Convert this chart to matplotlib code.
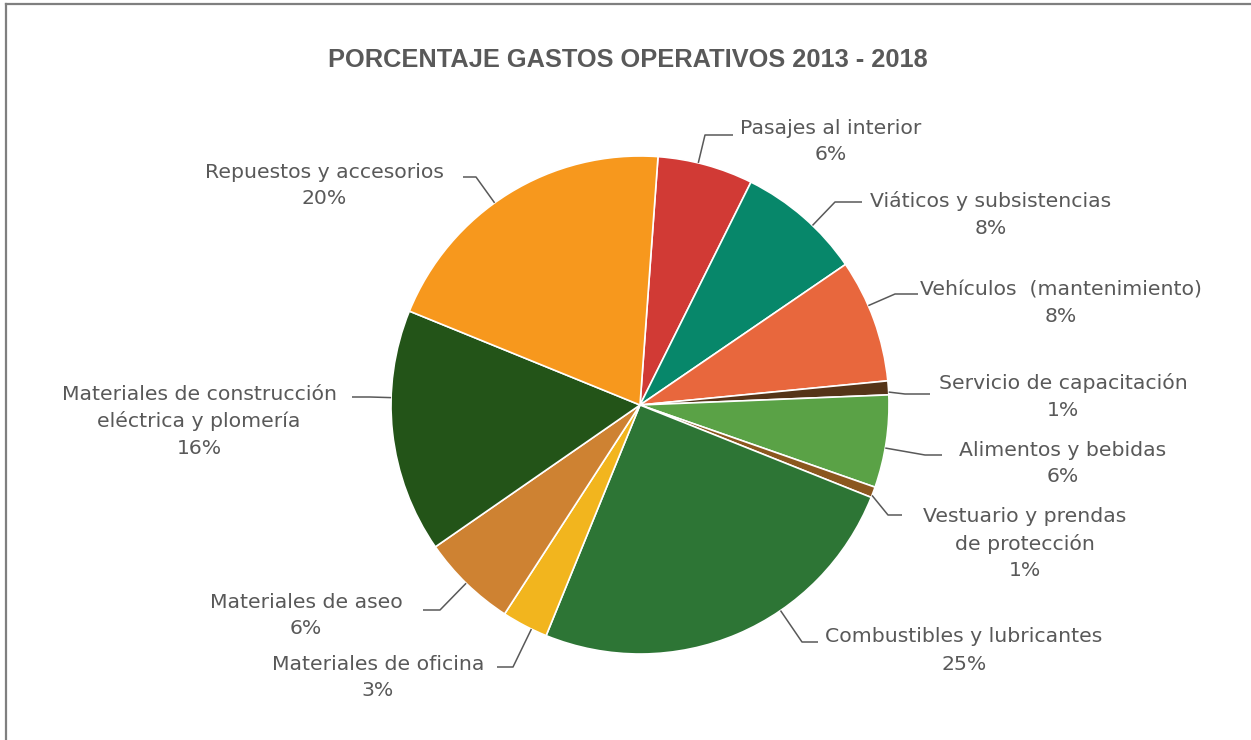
import numpy as np
import matplotlib
matplotlib.use("Agg")
import matplotlib.pyplot as plt

# data (percent of operating expenses)
categories = ["Pasajes al interior", "Viáticos y subsistencias", "Vehículos  (mantenimiento)",
              "Servicio de capacitación", "Alimentos y bebidas", "Vestuario y prendas\nde protección",
              "Combustibles y lubricantes", "Materiales de oficina", "Materiales de aseo",
              "Materiales de construcción\neléctrica y plomería", "Repuestos y accesorios"]
values = [6.2, 8.1, 8.0, 0.9, 6.0, 0.7, 25.1, 3.0, 6.2, 15.8, 20.0]
colors = ["#D13A35", "#07876A", "#E8673D", "#553418", "#5AA246", "#8B571F",
          "#2D7535", "#F2B51E", "#CE8232", "#235418", "#F7981D"]

# label layout in pixel units: (x centre, y of first line) and leader elbow (x, y, end x)
label_xy = [(831, 128), (991, 201), (1061, 290), (1063, 383), (1063, 450), (1025, 517),
            (964, 637), (378, 664), (306, 602), (199, 394), (324, 172)]
elbow = [(705, 135, 733), (835, 202, 862), (895, 294, 918), (905, 394, 930),
         (925, 455, 942), (888, 515, 902), (802, 642, 818), (513, 667, 497),
         (440, 610, 423), (370, 397, 352), (476, 177, 463)]

W, H = 1251, 740
cx, cy, R = 640, 405, 249
txt_color = "#595959"
line_h = 27

fig = plt.figure(figsize=(W / 100, H / 100), dpi=100)
ax = fig.add_axes([0, 0, 1, 1])

start = 90 - 4.15
wedges, _ = ax.pie(values, colors=colors, startangle=start, counterclock=False,
                   center=(cx, H - cy), radius=R, frame=True,
                   wedgeprops=dict(edgecolor="white", linewidth=1.2))
ax.set_xlim(0, W)
ax.set_ylim(0, H)
ax.set_aspect("equal")
ax.axis("off")

for i, w in enumerate(wedges):
    ex, ey, endx = elbow[i]
    # leader starts on the arc, as close to the elbow as the wedge allows
    mid = (w.theta1 + w.theta2) / 2
    half = (w.theta2 - w.theta1) / 2
    a = np.degrees(np.arctan2((H - ey) - (H - cy), ex - cx))
    a = mid + ((a - mid + 180) % 360 - 180)
    a = np.clip(a, mid - 0.6 * half, mid + 0.6 * half)
    x0 = cx + R * np.cos(np.radians(a))
    y0 = (H - cy) + R * np.sin(np.radians(a))
    ax.plot([x0, ex, endx], [y0, H - ey, H - ey], color="#595959", lw=1.1,
            solid_capstyle="butt", zorder=3)

    lx, ly = label_xy[i]
    lines = categories[i].split("\n") + ["%d%%" % round(values[i])]
    for k, s in enumerate(lines):
        ax.text(lx, H - (ly + k * line_h), s, ha="center", va="center", fontsize=14.7,
                family="DejaVu Sans", color=txt_color)

ax.text(628, H - 60, "PORCENTAJE GASTOS OPERATIVOS 2013 - 2018", ha="center", va="center",
        fontsize=18.3, fontweight="bold", family="Liberation Sans", color=txt_color)

# chart frame (only top and left edges are visible)
ax.plot([6, W], [H - 4, H - 4], color="#7f7f7f", lw=1.6, clip_on=False)
ax.plot([6, 6], [0, H - 4], color="#7f7f7f", lw=1.6, clip_on=False)

fig.savefig("out.png", dpi=100)
